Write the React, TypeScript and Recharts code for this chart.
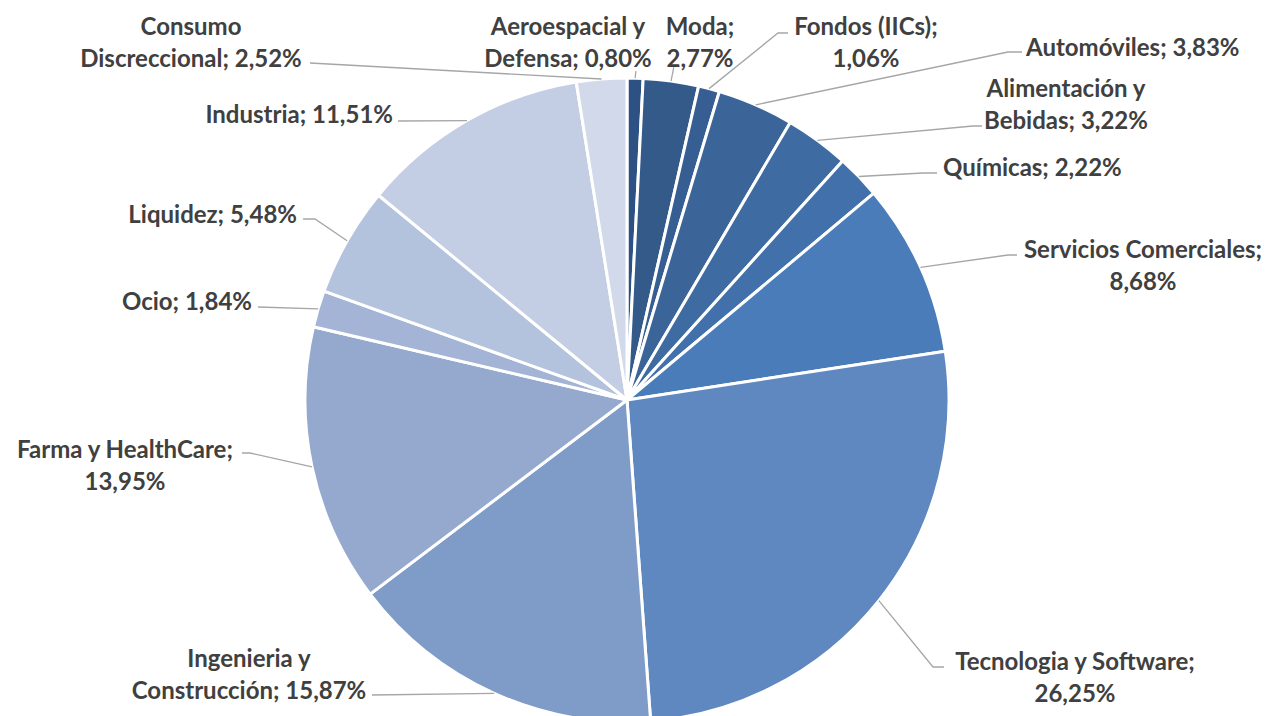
import { PieChart, Pie, Cell } from "recharts";

const sectors = [
  "Aeroespacial y Defensa",
  "Moda",
  "Fondos (IICs)",
  "Automóviles",
  "Alimentación y Bebidas",
  "Químicas",
  "Servicios Comerciales",
  "Tecnologia y Software",
  "Ingenieria y Construcción",
  "Farma y HealthCare",
  "Ocio",
  "Liquidez",
  "Industria",
  "Consumo Discreccional",
];

const weights = [
  0.8, 2.77, 1.06, 3.83, 3.22, 2.22, 8.68, 26.25, 15.87, 13.95, 1.84, 5.48,
  11.51, 2.52,
];

const colors = [
  "#2d5183", "#345a8a", "#375e92", "#3b6599", "#3e6ba1", "#4270aa", "#4a7cba",
  "#5f88c1", "#7f9bc8", "#95a9cf", "#a3b4d7", "#b3c2dd", "#c3cde3", "#d1d9ea",
];

const data = sectors.map((name, i) => ({ name, value: weights[i] }));

// label placement: text position, anchor, words on first line (0 = single line), leader bend/end
type Layout = {
  x: number;
  y: number;
  anchor: "start" | "middle" | "end";
  wrap: number;
  pts: [number, number][];
};

const layout: Layout[] = [
  { x: 568, y: 25, anchor: "middle", wrap: 2, pts: [[636, 71]] },
  { x: 700, y: 25, anchor: "middle", wrap: 1, pts: [[674, 66]] },
  { x: 866, y: 25, anchor: "middle", wrap: 2, pts: [[778, 33], [788, 33]] },
  { x: 1026, y: 46, anchor: "start", wrap: 0, pts: [[1008, 52], [1022, 52]] },
  { x: 1066, y: 87, anchor: "middle", wrap: 2, pts: [[973, 126], [982, 126]] },
  { x: 943, y: 166, anchor: "start", wrap: 0, pts: [[923, 173], [937, 173]] },
  { x: 1143, y: 248, anchor: "middle", wrap: 2, pts: [[1008, 255], [1017, 255]] },
  { x: 1075, y: 660, anchor: "middle", wrap: 3, pts: [[933, 667], [944, 667]] },
  { x: 249, y: 657, anchor: "middle", wrap: 2, pts: [[372, 695]] },
  { x: 125, y: 448, anchor: "middle", wrap: 3, pts: [[250, 453], [242, 453]] },
  { x: 252, y: 300, anchor: "end", wrap: 0, pts: [[258, 307]] },
  { x: 297, y: 213, anchor: "end", wrap: 0, pts: [[315, 219], [303, 219]] },
  { x: 393, y: 113, anchor: "end", wrap: 0, pts: [[398, 121]] },
  { x: 191, y: 25, anchor: "middle", wrap: 1, pts: [[310, 63]] },
];

const RAD = Math.PI / 180;

const fmt = (v: number) => v.toFixed(2).replace(".", ",") + "%";

const renderLabel = (props: any) => {
  const { cx, cy, midAngle, outerRadius, index } = props;
  const lay = layout[index];
  const sx = cx + outerRadius * Math.cos(-midAngle * RAD);
  const sy = cy + outerRadius * Math.sin(-midAngle * RAD);
  const text = `${sectors[index]}; ${fmt(weights[index])}`;
  const words = text.split(" ");
  const lines =
    lay.wrap > 0
      ? [words.slice(0, lay.wrap).join(" "), words.slice(lay.wrap).join(" ")]
      : [text];
  const pts = [[sx, sy], ...lay.pts].map((p) => p.join(",")).join(" ");
  return (
    <g key={`lbl-${index}`}>
      <polyline points={pts} fill="none" stroke="#a6a6a6" strokeWidth={1.3} />
      {lines.map((ln, j) => (
        <text
          key={j}
          x={lay.x}
          y={lay.y + j * 32.5}
          textAnchor={lay.anchor}
          dominantBaseline="central"
          fill="#404040"
          fontSize={24}
          fontWeight="bold"
          fontFamily="Lato, 'Open Sans', sans-serif"
        >
          {ln}
        </text>
      ))}
    </g>
  );
};

export default function App() {
  return (
    <div style={{ position: "absolute", left: 0, top: 0, background: "#fff" }}>
      <PieChart
        width={1271}
        height={716}
        margin={{ top: 0, right: 0, bottom: 0, left: 0 }}
      >
        <Pie
          data={data}
          dataKey="value"
          nameKey="name"
          cx={627}
          cy={400}
          outerRadius={322}
          startAngle={90}
          endAngle={-270}
          stroke="#ffffff"
          strokeWidth={3}
          label={renderLabel}
          labelLine={false}
          isAnimationActive={false}
        >
          {data.map((_, i) => (
            <Cell key={i} fill={colors[i]} />
          ))}
        </Pie>
      </PieChart>
    </div>
  );
}
